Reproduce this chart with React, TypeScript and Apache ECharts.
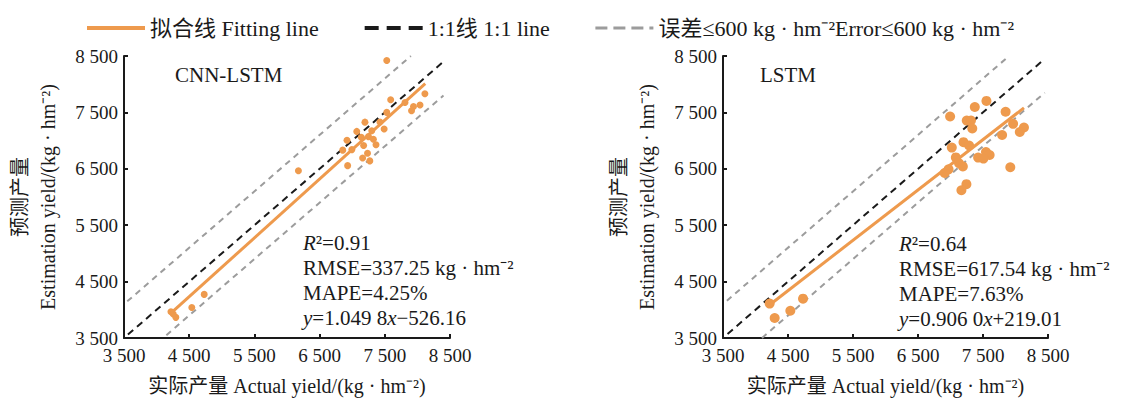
import React, { useEffect, useRef } from "react";
import * as echarts from "echarts";

// ---- data ----
const axisMin = 3500;
const axisMax = 8500;
const axisStep = 1000;

const cnnActual = [7530, 7590, 8115, 8040, 7940, 7910, 7810, 7530, 7425, 7490, 7195, 7070, 7300, 7140, 7250, 7325, 7365, 6920, 7175, 6995, 6855, 7235, 7160, 7270, 6930, 6175, 4730, 4540, 4220, 4255, 4295];
const cnnPred = [8420, 7725, 7832, 7632, 7603, 7530, 7674, 7500, 7330, 7205, 7327, 7163, 7175, 7060, 7070, 7023, 6925, 7006, 6912, 6840, 6831, 6775, 6693, 6640, 6556, 6465, 4273, 4041, 3965, 3924, 3866];

const lstmActual = [7553, 7374, 7848, 6994, 7250, 7315, 7963, 7335, 8130, 8066, 7794, 7200, 7286, 7020, 7546, 7602, 7082, 7425, 7507, 7131, 7190, 7920, 6970, 6910, 7245, 7168, 4218, 4731, 4536, 4295];
const lstmPred = [7704, 7596, 7512, 7428, 7355, 7355, 7297, 7215, 7233, 7152, 7100, 6972, 6913, 6876, 6798, 6744, 6702, 6699, 6681, 6599, 6542, 6527, 6490, 6426, 6228, 6120, 4110, 4198, 3983, 3855];

const cnnFitX = [4220, 8120];
const cnnFitY = [3940, 8010];
const lstmFitX = [4220, 8130];
const lstmFitY = [4090, 7580];

const cnnOneX = [3560, 8400];
const cnnOneY = [3560, 8400];
const cnnUpX = [3550, 7900];
const cnnUpY = [4150, 8500];
const cnnLowX = [4150, 8400];
const cnnLowY = [3550, 7800];

const lstmOneX = [3570, 8430];
const lstmOneY = [3570, 8430];
const lstmUpX = [3560, 7900];
const lstmUpY = [4160, 8500];
const lstmLowX = [4100, 8450];
const lstmLowY = [3500, 7850];

const legendNames = ["拟合线 Fitting line", "1:1线 1:1 line", "误差≤600 kg · hm⁻²Error≤600 kg · hm⁻²"];
const panelTitles = ["CNN-LSTM", "LSTM"];
const statsCnn = ["0.91", "337.25", "4.25%", "1.049 8", "−526.16"];
const statsLstm = ["0.64", "617.54", "7.63%", "0.906 0", "+219.01"];

const xName = "实际产量 Actual yield/(kg · hm⁻²)";
const yName = "预测产量\nEstimation yield/(kg · hm⁻²)";

// ---- style ----
const FONT = "'Liberation Serif', 'Times New Roman', 'Noto Sans CJK SC', serif";
const ORANGE = "#EE9A4D";
const BLACK = "#1a1a1a";
const GREY = "#9c9c9c";

const pairs = (xs: number[], ys: number[]) => xs.map((x, i) => [x, ys[i]]);
const fmtTick = (v: number) => String(v).replace(/(\d)(\d{3})$/, "$1 $2");

function makeAxes(gridIndex: number) {
  const common = {
    gridIndex,
    type: "value" as const,
    min: axisMin,
    max: axisMax,
    interval: axisStep,
    splitLine: { show: false },
    axisLine: { show: true, onZero: false, lineStyle: { color: BLACK, width: 2 } },
    axisTick: { show: true, inside: true, length: 4, lineStyle: { color: BLACK, width: 2 } },
    nameLocation: "middle" as const,
  };
  const x = {
    ...common,
    name: xName,
    nameGap: 38,
    nameTextStyle: { fontFamily: FONT, fontSize: 20, color: BLACK },
    axisLabel: { formatter: fmtTick, fontFamily: FONT, fontSize: 19, color: BLACK, margin: 8 },
  };
  const y = {
    ...common,
    name: yName,
    nameRotate: 90,
    nameGap: 62,
    nameTextStyle: { fontFamily: FONT, fontSize: 20, color: BLACK, lineHeight: 28, align: "center" },
    axisLabel: { formatter: fmtTick, fontFamily: FONT, fontSize: 19, color: BLACK, margin: 6 },
  };
  return { x, y };
}

function panelSeries(idx: number, ax: number[], py: number[], fx: number[], fy: number[], ox: number[], oy: number[], ux: number[], uy: number[], lx: number[], ly: number[], size: number) {
  const base = { xAxisIndex: idx, yAxisIndex: idx, symbol: "none", silent: true };
  return [
    { ...base, type: "line", name: legendNames[2], data: pairs(ux, uy), lineStyle: { color: GREY, width: 2, type: [6, 5] }, itemStyle: { color: GREY }, z: 2 },
    { ...base, type: "line", name: legendNames[2], data: pairs(lx, ly), lineStyle: { color: GREY, width: 2, type: [6, 5] }, itemStyle: { color: GREY }, z: 2 },
    { ...base, type: "line", name: legendNames[1], data: pairs(ox, oy), lineStyle: { color: BLACK, width: 2, type: [7, 5] }, itemStyle: { color: BLACK }, z: 3 },
    { xAxisIndex: idx, yAxisIndex: idx, type: "scatter", name: "points" + idx, data: pairs(ax, py), symbolSize: size, itemStyle: { color: ORANGE, opacity: 1 }, z: 4 },
    { ...base, type: "line", name: legendNames[0], data: pairs(fx, fy), lineStyle: { color: ORANGE, width: 3 }, itemStyle: { color: ORANGE }, z: 5 },
  ];
}

function statsText(s: string[]) {
  return [
    `{i|R}{n|²=${s[0]}}`,
    `{n|RMSE=${s[1]} kg · hm⁻²}`,
    `{n|MAPE=${s[2]}}`,
    `{i|y}{n|=${s[3]}}{i|x}{n|${s[4]}}`,
  ].join("\n");
}

const richStyle = {
  n: { fontFamily: FONT, fontSize: 21, fill: BLACK, lineHeight: 25 },
  i: { fontFamily: FONT, fontSize: 21, fill: BLACK, lineHeight: 25, fontStyle: "italic" },
};

export default function App() {
  const ref = useRef<HTMLDivElement>(null);
  useEffect(() => {
    if (!ref.current) return;
    const chart = echarts.init(ref.current, undefined, { renderer: "svg" });
    const a0 = makeAxes(0);
    const a1 = makeAxes(1);
    chart.setOption({
      animation: false,
      backgroundColor: "#ffffff",
      legend: {
        left: 80,
        top: 12,
        itemWidth: 58,
        itemHeight: 20,
        itemGap: 44,
        textStyle: { fontFamily: FONT, fontSize: 22, color: BLACK },
        data: [
          { name: legendNames[0], itemStyle: { color: ORANGE, opacity: 0 }, lineStyle: { color: ORANGE, width: 4, type: "solid", opacity: 1 } },
          { name: legendNames[1], itemStyle: { color: BLACK, opacity: 0 }, lineStyle: { color: BLACK, width: 4, type: [14, 8], opacity: 1 } },
          { name: legendNames[2], itemStyle: { color: GREY, opacity: 0 }, lineStyle: { color: GREY, width: 3, type: [12, 6], opacity: 1 } },
        ],
      },
      grid: [
        { left: 124, top: 56, width: 326, height: 287 },
        { left: 723, top: 56, width: 325, height: 287 },
      ],
      xAxis: [a0.x, a1.x],
      yAxis: [a0.y, a1.y],
      series: [
        ...panelSeries(0, cnnActual, cnnPred, cnnFitX, cnnFitY, cnnOneX, cnnOneY, cnnUpX, cnnUpY, cnnLowX, cnnLowY, 7),
        ...panelSeries(1, lstmActual, lstmPred, lstmFitX, lstmFitY, lstmOneX, lstmOneY, lstmUpX, lstmUpY, lstmLowX, lstmLowY, 10),
      ],
      graphic: [
        { type: "text", x: 175, y: 75, style: { text: panelTitles[0], fontFamily: FONT, fontSize: 21, fill: BLACK, verticalAlign: "middle" } },
        { type: "text", x: 760, y: 75, style: { text: panelTitles[1], fontFamily: FONT, fontSize: 21, fill: BLACK, verticalAlign: "middle" } },
        { type: "text", x: 303, y: 230, style: { text: statsText(statsCnn), rich: richStyle, fontFamily: FONT, fontSize: 21, fill: BLACK, lineHeight: 25, verticalAlign: "top" } },
        { type: "text", x: 899, y: 231, style: { text: statsText(statsLstm), rich: richStyle, fontFamily: FONT, fontSize: 21, fill: BLACK, lineHeight: 25, verticalAlign: "top" } },
      ],
    });
    return () => chart.dispose();
  }, []);
  return <div ref={ref} style={{ position: "absolute", left: 0, top: 0, width: 1130, height: 401 }} />;
}
